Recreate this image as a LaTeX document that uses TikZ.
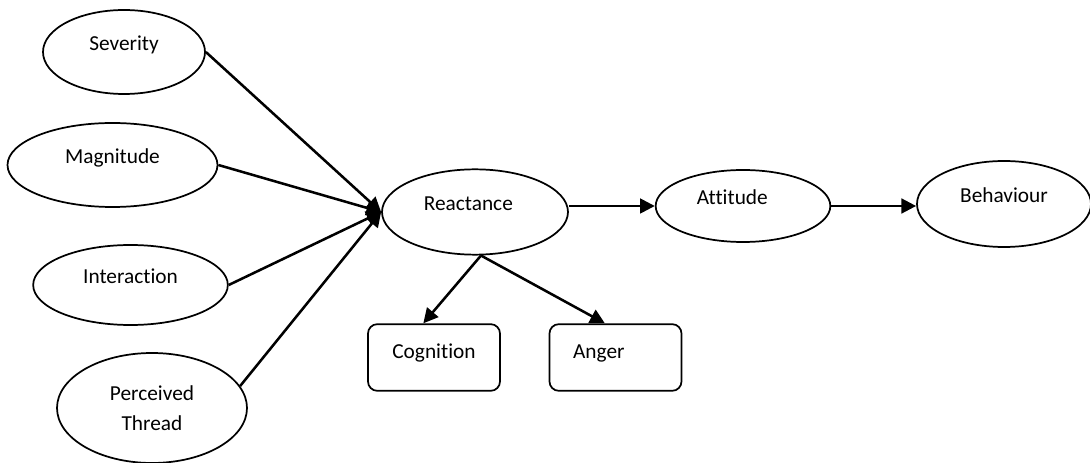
\documentclass[tikz,border=0pt]{standalone}
\usepackage{fontspec}
\setmainfont{Carlito}[Ligatures=NoCommon]
\usetikzlibrary{shapes.geometric}
\usetikzlibrary{arrows.meta}
\tikzset{myEll/.style={draw, ellipse, line width=1.3pt, inner sep=0pt}}
\tikzset{myLift/.style={text height=10pt, text depth=12pt}}
\tikzset{myBox/.style={draw, rounded corners=7pt, line width=1.3pt, minimum width=99pt, minimum height=50pt, text height=10pt, text depth=8.5pt}}
\tikzset{myArr/.style={-{Triangle[length=11pt,width=11pt]}, line width=1.9pt}}

\begin{document}
\begin{tikzpicture}[x=0.75pt, y=-0.75pt, font=\fontsize{16}{22.5}\selectfont]

\useasboundingbox (0,0) rectangle (1090,463);

\node[myEll, myLift, minimum width=121.5pt, minimum height=63pt] (sev) at (124, 52) {Severity};
\node[myEll, myLift, minimum width=157.5pt, minimum height=63pt] (mag) at (112.5, 165) {Magnitude};
\node[myEll, myLift, minimum width=146pt, minimum height=60pt] (int) at (130.5, 285) {Interaction};
\node[myEll, align=center, minimum width=142.5pt, minimum height=82.5pt] (per) at (152, 408) {Perceived\\Thread};

\node[myEll, myLift, minimum width=139.5pt, minimum height=64pt] (re) at (475, 212) {Reactance\hspace*{10pt}};
\node[myEll, myLift, minimum width=131pt, minimum height=54pt] (att) at (743, 206) {Attitude\hspace*{16pt}};
\node[myEll, myLift, minimum width=130.5pt, minimum height=64.5pt] (beh) at (1004, 204) {Behaviour};

\node[myBox] (cog) at (434, 357.5) {Cognition};
\node[myBox] (ang) at (615.5, 357.5) {Anger\hspace*{25pt}};

\draw[myArr] (sev.east) -- (re.west);
\draw[myArr] (mag.east) -- (re.west);
\draw[myArr] (int.east) -- (re.west);
\draw[myArr] (per.14) -- (re.west);

\draw[myArr] (re.east |- att.west) -- (att.west);
\draw[myArr] (att.east) -- (beh.west |- att.east);

\draw[myArr] ([xshift=4.5pt]re.south) -- ([xshift=-8pt]cog.north);
\draw[myArr] ([xshift=4.5pt]re.south) -- ([xshift=-8pt]ang.north);

\end{tikzpicture}
\end{document}
